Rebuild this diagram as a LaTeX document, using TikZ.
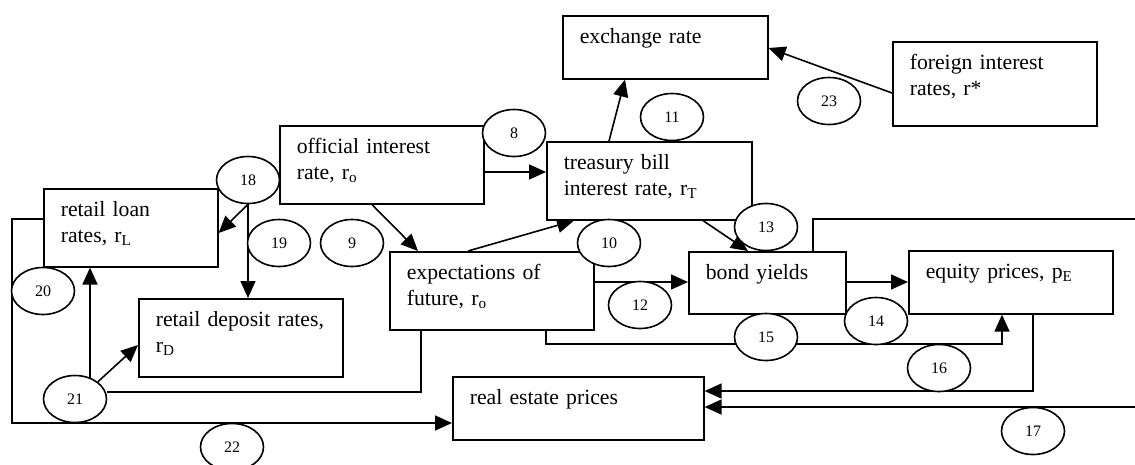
\documentclass[tikz,border=0pt]{standalone}
\usepackage{fontspec}
\setmainfont{Liberation Serif}
\usetikzlibrary{arrows.meta,shapes.geometric,backgrounds}

\begin{document}
\begin{tikzpicture}[x=1pt,y=-1pt,
 box/.style={draw,line width=1.6pt,fill=white,anchor=north west,align=left,
   inner xsep=17pt,inner ysep=0pt,text height=28pt,
   font=\fontsize{21.7}{26}\selectfont},
 num/.style={draw,ellipse,line width=1.6pt,fill=white,inner sep=0pt,
   minimum width=63pt,minimum height=47pt,font=\fontsize{16}{18}\selectfont},
 arr/.style={-{Triangle[length=17pt,width=15pt]},line width=1.6pt},
 link/.style={line width=1.6pt}]
 \useasboundingbox (0,0) rectangle (1135,464);
 \node[box,text width=171pt,text depth=35pt] (exch) at (562,15) {exchange rate};
 \node[box,text width=170pt,text depth=56pt] (forgn) at (892,41)
   {foreign interest\\rates, r*};
 \node[box,text width=170pt,text depth=50pt] (official) at (279,125)
   {official interest\\rate, r\textsubscript{o}};
 \node[box,text width=171pt,text depth=50pt] (tbill) at (546,141)
   {treasury bill\\interest rate, r\textsubscript{T}};
 \node[box,text width=140pt,text depth=50pt] (retloan) at (43,188)
   {retail loan\\rates, r\textsubscript{L}};
 \node[box,text width=170pt,text depth=50pt] (retdep) at (138,298)
   {retail deposit rates,\\r\textsubscript{D}};
 \node[box,text width=170pt,text depth=50pt] (expect) at (389,251)
   {expectations of\\future, r\textsubscript{o}};
 \node[box,text width=123pt,text depth=34pt] (bond) at (688,251) {bond yields};
 \node[box,text width=170pt,text depth=35pt] (equity) at (908,250)
   {equity prices, p\textsubscript{E}};
 \node[box,text width=217pt,text depth=35pt] (realest) at (452,376)
   {real estate prices};
 \node[num] (n8) at (514,133) {8};
 \node[num] (n9) at (352,243) {9};
 \node[num] (n10) at (609,243) {10};
 \node[num] (n11) at (672,117) {11};
 \node[num] (n12) at (640,305) {12};
 \node[num] (n13) at (766,227) {13};
 \node[num] (n14) at (876,321) {14};
 \node[num] (n15) at (766,337) {15};
 \node[num] (n16) at (939,368) {16};
 \node[num] (n17) at (1033,431) {17};
 \node[num] (n18) at (248,180) {18};
 \node[num] (n19) at (279,243) {19};
 \node[num] (n20) at (43,291) {20};
 \node[num] (n21) at (75,399) {21};
 \node[num] (n22) at (232,447) {22};
 \node[num] (n23) at (829,101) {23};
 \begin{scope}[on background layer]
 \clip (0,0) rectangle (1135,464);
 \draw[arr] (official.east |- 0,172) -- (tbill.west |- 0,172);
 \draw[arr] (official.south -| 372,0) -- (expect.north -| 418,0);
 \draw[arr] (expect.north -| 468,0) -- (tbill.south -| 574,0);
 \draw[arr] (tbill.north -| 609,0) -- (exch.south -| 625,0);
 \draw[arr] (forgn.west |- 0,93) -- (exch.east |- 0,48);
 \draw[arr] (tbill.south -| 703,0) -- (bond.north -| 748,0);
 \draw[arr] (expect.east |- 0,282) -- (bond.west |- 0,282);
 \draw[arr] (bond.east |- 0,282) -- (equity.west |- 0,282);
 \draw[arr] (expect.south -| 546,0) -- (546,344) -| (equity.south -| 1002,0);
 \draw[arr] (equity.south -| 1033,0) |- (realest.east |- 0,391);
 \draw[arr] (bond.north -| 813,0) |- (1150,219) |- (realest.east |- 0,407);
 \draw[arr] (retloan.west |- 0,219) -| (12,423) -- (realest.west |- 0,423);
 \draw[link] (expect.south -| 421,0) |- (n21.east |- 0,392);
 \draw[arr] (n21.center -| 90,0) -- (retloan.south -| 90,0);
 \draw[arr] (n21.north east) -- (retdep.west |- 0,345);
 \draw[arr] (n18.south) -- (retloan.east |- 0,233);
 \draw[arr] (n18.south) -- (retdep.north -| n18.south);
 \end{scope}
\end{tikzpicture}
\end{document}
